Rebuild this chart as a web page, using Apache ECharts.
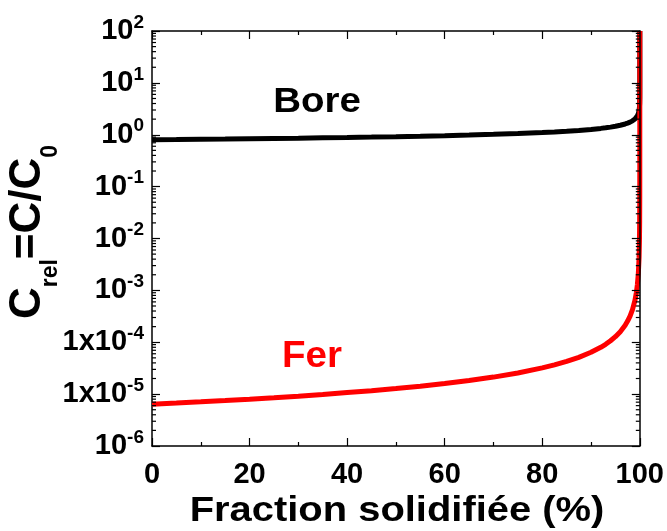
<!DOCTYPE html>
<html>
<head>
<meta charset="utf-8">
<script src="https://cdn.jsdelivr.net/npm/echarts@6/dist/echarts.min.js"></script>
<style>
html,body{margin:0;padding:0;background:#fff;}
#chart{width:667px;height:531px;}
</style>
</head>
<body>
<div id="chart"></div>
<script>
// Fraction solidifiée (%)
var fraction = [0, 5, 10, 15, 20, 25, 30, 35, 40, 45, 50, 55, 60, 65, 70, 75, 80, 82.5, 85, 87.5, 90, 92, 93, 94, 95, 96, 97, 97.5, 98, 98.5, 99, 99.3, 99.5, 99.7, 99.85, 99.93, 99.97, 99.99, 99.997, 99.999, 99.9997, 99.9999, 100];
// C_rel for Bore (black)
var bore = [0.800, 0.808, 0.817, 0.826, 0.836, 0.847, 0.859, 0.872, 0.886, 0.901, 0.919, 0.939, 0.961, 0.987, 1.018, 1.056, 1.104, 1.134, 1.169, 1.213, 1.268, 1.326, 1.362, 1.404, 1.457, 1.523, 1.613, 1.673, 1.749, 1.853, 2.01, 2.16, 2.31, 2.56, 2.94, 3.42, 4.05, 5.05, 6.42, 8.0, 10.2, 12.7, 100];
// C_rel for Fer (red)
var fer = [6.4e-6, 6.74e-6, 7.11e-6, 7.53e-6, 8.0e-6, 8.53e-6, 9.14e-6, 9.85e-6, 1.07e-5, 1.16e-5, 1.28e-5, 1.42e-5, 1.6e-5, 1.83e-5, 2.13e-5, 2.56e-5, 3.2e-5, 3.66e-5, 4.27e-5, 5.12e-5, 6.4e-5, 8.0e-5, 9.14e-5, 1.07e-4, 1.28e-4, 1.6e-4, 2.13e-4, 2.56e-4, 3.2e-4, 4.27e-4, 6.4e-4, 9.14e-4, 1.28e-3, 2.13e-3, 4.27e-3, 9.14e-3, 2.13e-2, 6.4e-2, 0.213, 0.64, 2.13, 6.4, 100];
// Y tick labels (base, exponent), from 1e-6 to 1e2
var yTickBase = ['10', '1x10', '1x10', '10', '10', '10', '10', '10', '10'];
var yTickExp = ['-6', '-5', '-4', '-3', '-2', '-1', '0', '1', '2'];
// decades and in-decade multipliers for the log minor ticks
var decades = [1e-6, 1e-5, 1e-4, 1e-3, 1e-2, 1e-1, 1, 10];
var minorMultipliers = [2, 3, 4, 5, 6, 7, 8, 9];
var seriesNames = ['Bore', 'Fer'];
var xTitle = 'Fraction solidifiée (%)';

var FONT = 'Liberation Sans, Arial, sans-serif';

function pairs(xs, ys) {
  return xs.map(function (x, i) { return [x, ys[i]]; });
}

var minorTickData = [];
[0, 100].forEach(function (side) {
  decades.forEach(function (d) {
    minorMultipliers.forEach(function (m) {
      minorTickData.push([side, d * m]);
    });
  });
});

var chart = echarts.init(document.getElementById('chart'));

var tickStyle = { color: '#000', width: 1.2 };

var option = {
  animation: false,
  backgroundColor: '#fff',
  grid: { left: 152, right: 27, top: 31, bottom: 85, containLabel: false },
  xAxis: [{
    type: 'value', min: 0, max: 100, interval: 20,
    position: 'bottom',
    axisLine: { show: true, onZero: false, lineStyle: { color: '#000', width: 1.5 } },
    axisTick: { show: true, inside: true, length: 8, lineStyle: tickStyle },
    minorTick: { show: true, splitNumber: 2, length: 4, lineStyle: tickStyle },
    splitLine: { show: false },
    axisLabel: { show: true, margin: 14, color: '#000', fontFamily: FONT, fontWeight: 'bold', fontSize: 29 }
  }, {
    type: 'value', min: 0, max: 100, interval: 20,
    position: 'top',
    axisLine: { show: true, onZero: false, lineStyle: { color: '#000', width: 1.5 } },
    axisTick: { show: true, inside: true, length: 8, lineStyle: tickStyle },
    minorTick: { show: true, splitNumber: 2, length: 4, lineStyle: tickStyle },
    splitLine: { show: false },
    axisLabel: { show: false }
  }],
  yAxis: [{
    type: 'log', logBase: 10, min: 1e-6, max: 1e2, interval: 1,
    position: 'left',
    axisLine: { show: true, onZero: false, lineStyle: { color: '#000', width: 1.5 } },
    axisTick: { show: true, inside: true, length: 8, lineStyle: tickStyle },
    minorTick: { show: false },
    splitLine: { show: false },
    axisLabel: {
      show: true, margin: 8, color: '#000',
      formatter: function (v) {
        var e = Math.round(Math.log10(v));
        var i = e + 6;
        return '{b|' + yTickBase[i] + '}{s|' + yTickExp[i] + '}';
      },
      rich: {
        b: { fontFamily: FONT, fontWeight: 'bold', fontSize: 29, lineHeight: 36, verticalAlign: 'middle', color: '#000' },
        s: { fontFamily: FONT, fontWeight: 'bold', fontSize: 19, lineHeight: 14, verticalAlign: 'top', color: '#000' }
      }
    }
  }, {
    type: 'log', logBase: 10, min: 1e-6, max: 1e2, interval: 1,
    position: 'right', z: 10,
    axisLine: { show: true, onZero: false, lineStyle: { color: '#000', width: 1.5 } },
    axisTick: { show: true, inside: true, length: 8, lineStyle: tickStyle },
    minorTick: { show: false },
    splitLine: { show: false },
    axisLabel: { show: false }
  }],
  series: [{
    name: seriesNames[0], type: 'line', xAxisIndex: 0, yAxisIndex: 0,
    data: pairs(fraction, bore), showSymbol: false, symbol: 'none', smooth: false,
    lineStyle: { color: '#000', width: 5 }, z: 2
  }, {
    name: seriesNames[1], type: 'line', xAxisIndex: 0, yAxisIndex: 0,
    data: pairs(fraction, fer), showSymbol: false, symbol: 'none', smooth: false,
    lineStyle: { color: '#ff0000', width: 5 }, z: 3
  }, {
    name: 'minorTicks', type: 'custom', xAxisIndex: 0, yAxisIndex: 0,
    data: minorTickData, clip: false, z: 10, silent: true,
    renderItem: function (params, api) {
      var side = api.value(0);
      var p = api.coord([side, api.value(1)]);
      var dir = side === 0 ? 1 : -1;
      return {
        type: 'line',
        shape: { x1: p[0], y1: p[1], x2: p[0] + dir * 4, y2: p[1] },
        style: { stroke: '#000', lineWidth: 1.2 }
      };
    }
  }],
  graphic: [{
    type: 'text', x: 317, y: 102, scaleX: 1.1, z: 10,
    style: { text: seriesNames[0], fill: '#000', font: 'bold 35px ' + FONT, align: 'center', verticalAlign: 'middle' }
  }, {
    type: 'text', x: 312, y: 357, scaleX: 1.07, z: 10,
    style: { text: seriesNames[1], fill: '#ff0000', font: 'bold 36px ' + FONT, align: 'center', verticalAlign: 'middle' }
  }, {
    type: 'text', x: 397, y: 511, scaleX: 1.14, z: 10,
    style: { text: xTitle, fill: '#000', font: 'bold 35px ' + FONT, align: 'center', verticalAlign: 'middle' }
  }, {
    type: 'text', x: 34, y: 232, rotation: Math.PI / 2, z: 10,
    style: {
      text: '{m|C}{u|rel}{m|=C/C}{u|0}',
      align: 'center', verticalAlign: 'middle',
      rich: {
        m: { fontFamily: FONT, fontWeight: 'bold', fontSize: 44, lineHeight: 44, verticalAlign: 'top', fill: '#000' },
        u: { fontFamily: FONT, fontWeight: 'bold', fontSize: 23, lineHeight: 57, verticalAlign: 'bottom', fill: '#000' }
      }
    }
  }]
};

chart.setOption(option);
</script>
</body>
</html>
